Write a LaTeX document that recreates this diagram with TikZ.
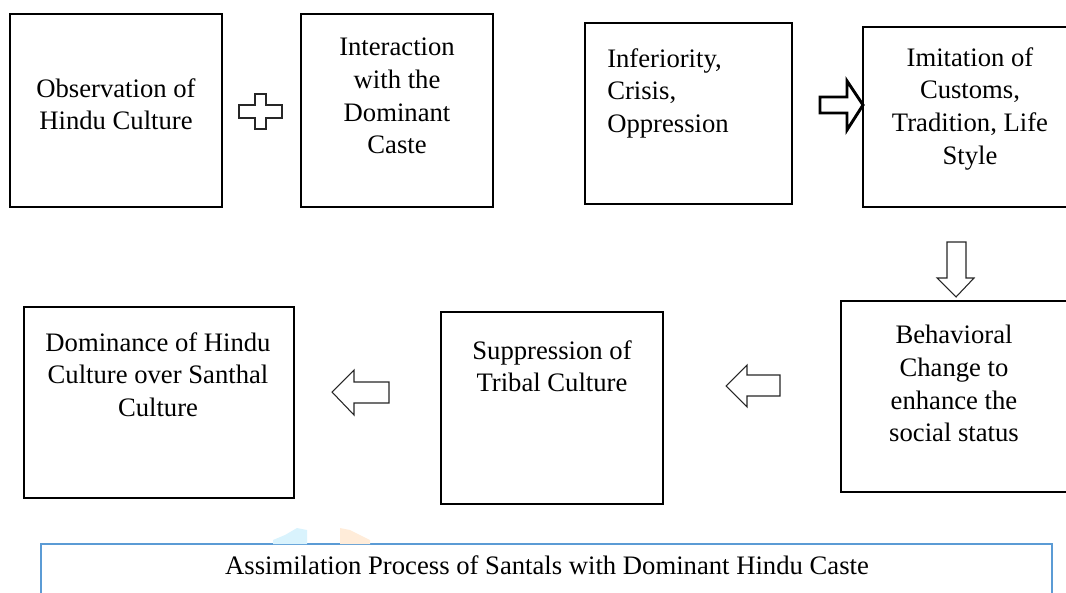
\documentclass[tikz,border=0pt]{standalone}
\usepackage{fontspec}
\setmainfont{Liberation Serif}
\definecolor{refblue}{RGB}{91,155,213}
\begin{document}
\begin{tikzpicture}[x=0.75pt,y=-0.75pt,
  box/.style={draw=black,line width=0.9pt,inner sep=0pt},
  txt/.style={inner sep=0pt,align=center,font=\rmfamily\fontsize{20}{24.5}\selectfont,anchor=north},
  thinarrow/.style={draw=black!85,line width=0.8pt,fill=white,line join=miter},
  thickarrow/.style={draw=black,line width=2.2pt,fill=white,line join=miter}]
\useasboundingbox (0,0) rectangle (1066,592);
\clip (0,0) rectangle (1066,592);
% boxes
\draw[box] (10,14) rectangle (222,207);
\draw[box] (301,14) rectangle (493,207);
\draw[box] (585,23) rectangle (792,204);
\draw[box] (863,27) rectangle (1080,207);
\draw[box] (841,301) rectangle (1080,492);
\draw[box] (441,312) rectangle (663,504);
\draw[box] (24,307) rectangle (294,498);
\draw[draw=refblue,line width=2.2pt] (41,544) rectangle (1052,600);
% texts
\node[txt] (t1) at (116,78) {Observation of\\Hindu Culture};
\node[txt] (t2) at (397,38) {Interaction\\with the\\Dominant\\Caste};
\node[txt,anchor=north west,align=left] (t3) at (607,48) {Inferiority,\\Crisis,\\Oppression};
\node[txt] (t4) at (970,47) {Imitation of\\Customs,\\Tradition, Life\\Style};
\node[txt] (t5) at (954,325) {Behavioral\\Change to\\enhance the\\social status};
\node[txt] (t6) at (552,340) {Suppression of\\Tribal Culture};
\node[txt] (t7) at (158,332) {Dominance of Hindu\\Culture over Santhal\\Culture};
\node[txt,anchor=base] (t8) at (547,574) {Assimilation Process of Santals with Dominant Hindu Caste};
% plus
\draw[thinarrow] (255,94) -- (266,94) -- (266,105) -- (282,105) -- (282,118) -- (266,118) -- (266,129) -- (255,129) -- (255,118) -- (239,118) -- (239,105) -- (255,105) -- cycle;
% thick right arrow
\draw[thickarrow] (820,97) -- (847,97) -- (847,81) -- (863,105) -- (847,130) -- (847,113) -- (820,113) -- cycle;
% down arrow
\draw[thinarrow] (947,242) -- (966,242) -- (966,278) -- (974,278) -- (956,297) -- (937,278) -- (947,278) -- cycle;
% left arrows
\draw[thinarrow] (780,375) -- (747,375) -- (747,365) -- (726,386) -- (747,407) -- (747,396) -- (780,396) -- cycle;
\draw[thinarrow] (389,382) -- (354,382) -- (354,370) -- (332,392) -- (354,415) -- (354,403) -- (389,403) -- cycle;
% faint watermark shapes
\fill[cyan!15] (273,544) -- (273,540) -- (285,535) -- (297,528) -- (307,530) -- (307,544) -- cycle;
\fill[orange!15] (340,544) -- (340,528) -- (350,530) -- (370,540) -- (370,544) -- cycle;
\end{tikzpicture}
\end{document}
